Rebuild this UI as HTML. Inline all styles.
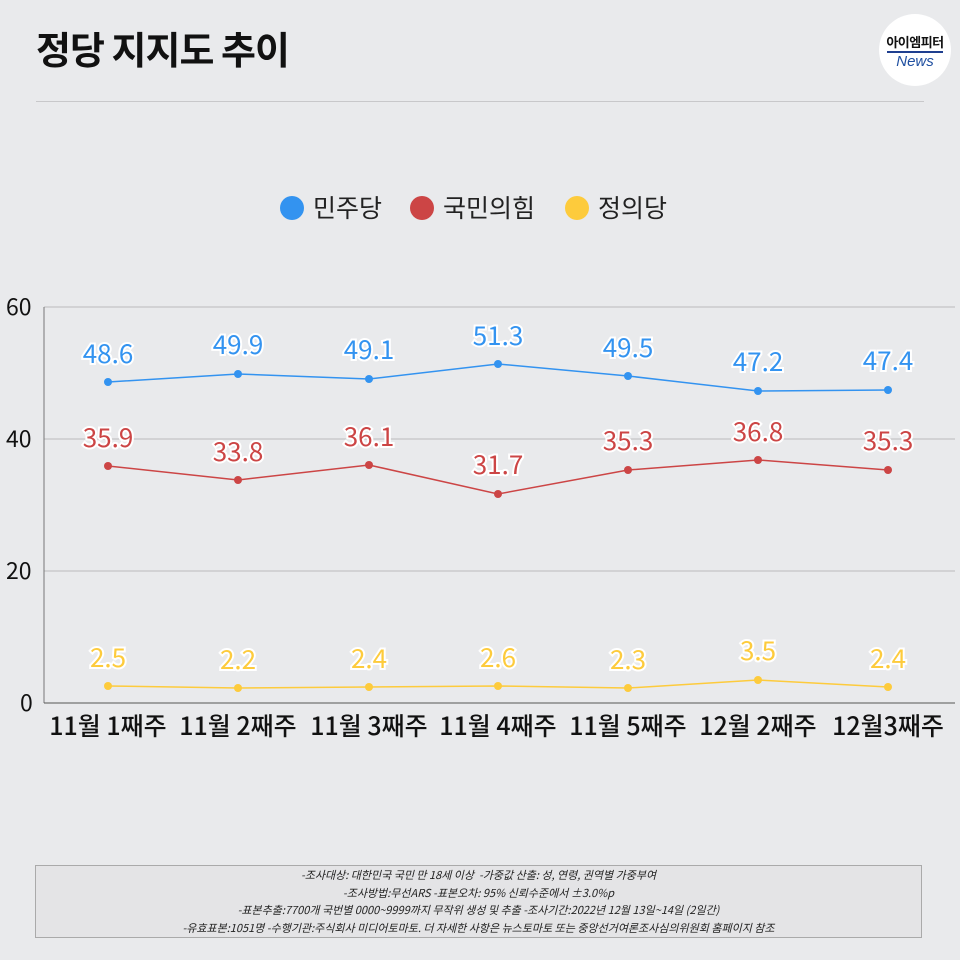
<!DOCTYPE html>
<html><head><meta charset="utf-8"><style>
body{margin:0;width:960px;height:960px;background:#e9eaec;font-family:"Noto Sans CJK KR","Liberation Sans",sans-serif;overflow:hidden;position:relative}
.t{position:absolute;left:36px;top:20px;font-size:38px;font-weight:bold;color:#111;letter-spacing:-1px;line-height:56px}
.logo{position:absolute;left:879px;top:14px;width:72px;height:72px;border-radius:50%;background:#fff;text-align:center}
.foot{position:absolute;left:35px;top:865px;width:887px;height:73px;border:1px solid #aaa;background:#e4e4e6;font-size:11px;font-style:italic;color:#222;text-align:center;line-height:17.5px;padding-top:1px;box-sizing:border-box}
</style></head><body>
<div class="t">정당 지지도 추이</div>
<div class="logo"><div style="font-size:13px;font-weight:bold;margin-top:20px;color:#111;letter-spacing:-0.5px;line-height:16px">아이엠피터</div><div style="height:2px;background:#1f3f8f;margin:1px 8px 0"></div><div style="font-size:15px;font-style:italic;color:#1f4fa0;line-height:18px;font-family:'Liberation Sans',sans-serif">News</div></div>
<div style="position:absolute;left:36px;top:101px;width:888px;height:1px;background:#c8c8ca"></div>
<svg width="960" height="960" style="position:absolute;left:0;top:0" font-family="Noto Sans CJK KR, Liberation Sans, sans-serif">
<g font-size="25" fill="#222">
<circle cx="292" cy="208" r="12" fill="#3393f0"/><text x="313" y="217">민주당</text>
<circle cx="422" cy="208" r="12" fill="#cc4545"/><text x="443" y="217">국민의힘</text>
<circle cx="577" cy="208" r="12" fill="#fdcb3c"/><text x="598" y="217">정의당</text>
</g>
<g stroke="#bbb" stroke-width="1">
<line x1="44" y1="307" x2="955" y2="307"/><line x1="44" y1="439" x2="955" y2="439"/><line x1="44" y1="571" x2="955" y2="571"/>
</g>
<line x1="44" y1="307" x2="44" y2="703" stroke="#777"/>
<line x1="44" y1="703" x2="955" y2="703" stroke="#555"/>
<g font-size="23" fill="#111"><text x="6" y="315">60</text><text x="6" y="447">40</text><text x="6" y="579">20</text><text x="20" y="711">0</text></g>
<g font-size="25" font-weight="500" fill="#111" text-anchor="middle">
<text x="108" y="735">11월 1째주</text><text x="238" y="735">11월 2째주</text><text x="369" y="735">11월 3째주</text><text x="498" y="735">11월 4째주</text><text x="628" y="735">11월 5째주</text><text x="758" y="735">12월 2째주</text><text x="888" y="735">12월3째주</text>
</g>
<polyline fill="none" stroke="#3393f0" stroke-width="1.5" points="108,382 238,374 369,379 498,364 628,376 758,391 888,390"/>
<polyline fill="none" stroke="#cc4545" stroke-width="1.5" points="108,466 238,480 369,465 498,494 628,470 758,460 888,470"/>
<polyline fill="none" stroke="#fdcb3c" stroke-width="1.5" points="108,686 238,688 369,687 498,686 628,688 758,680 888,687"/>
<g fill="#3393f0"><circle cx="108" cy="382" r="4"/><circle cx="238" cy="374" r="4"/><circle cx="369" cy="379" r="4"/><circle cx="498" cy="364" r="4"/><circle cx="628" cy="376" r="4"/><circle cx="758" cy="391" r="4"/><circle cx="888" cy="390" r="4"/></g>
<g fill="#cc4545"><circle cx="108" cy="466" r="4"/><circle cx="238" cy="480" r="4"/><circle cx="369" cy="465" r="4"/><circle cx="498" cy="494" r="4"/><circle cx="628" cy="470" r="4"/><circle cx="758" cy="460" r="4"/><circle cx="888" cy="470" r="4"/></g>
<g fill="#fdcb3c"><circle cx="108" cy="686" r="4"/><circle cx="238" cy="688" r="4"/><circle cx="369" cy="687" r="4"/><circle cx="498" cy="686" r="4"/><circle cx="628" cy="688" r="4"/><circle cx="758" cy="680" r="4"/><circle cx="888" cy="687" r="4"/></g>
<g font-size="26" text-anchor="middle" stroke="#fff" stroke-width="4" paint-order="stroke">
<g fill="#3393f0"><text x="108" y="363">48.6</text><text x="238" y="354">49.9</text><text x="369" y="359">49.1</text><text x="498" y="345">51.3</text><text x="628" y="357">49.5</text><text x="758" y="371">47.2</text><text x="888" y="370">47.4</text></g>
<g fill="#cc4545"><text x="108" y="447">35.9</text><text x="238" y="461">33.8</text><text x="369" y="446">36.1</text><text x="498" y="474">31.7</text><text x="628" y="450">35.3</text><text x="758" y="441">36.8</text><text x="888" y="450">35.3</text></g>
<g fill="#fdcb3c"><text x="108" y="667">2.5</text><text x="238" y="669">2.2</text><text x="369" y="668">2.4</text><text x="498" y="667">2.6</text><text x="628" y="669">2.3</text><text x="758" y="660">3.5</text><text x="888" y="668">2.4</text></g>
</g>
</svg>
<div class="foot">-조사대상: 대한민국 국민 만 18세 이상 &nbsp;-가중값 산출: 성, 연령, 권역별 가중부여<br>-조사방법:무선ARS -표본오차: 95% 신뢰수준에서 ±3.0%p<br>-표본추출:7700개 국번별 0000~9999까지 무작위 생성 및 추출 -조사기간:2022년 12월 13일~14일 (2일간)<br>-유효표본:1051명 -수행기관:주식회사 미디어토마토. 더 자세한 사항은 뉴스토마토 또는 중앙선거여론조사심의위원회 홈페이지 참조</div>
</body></html>
